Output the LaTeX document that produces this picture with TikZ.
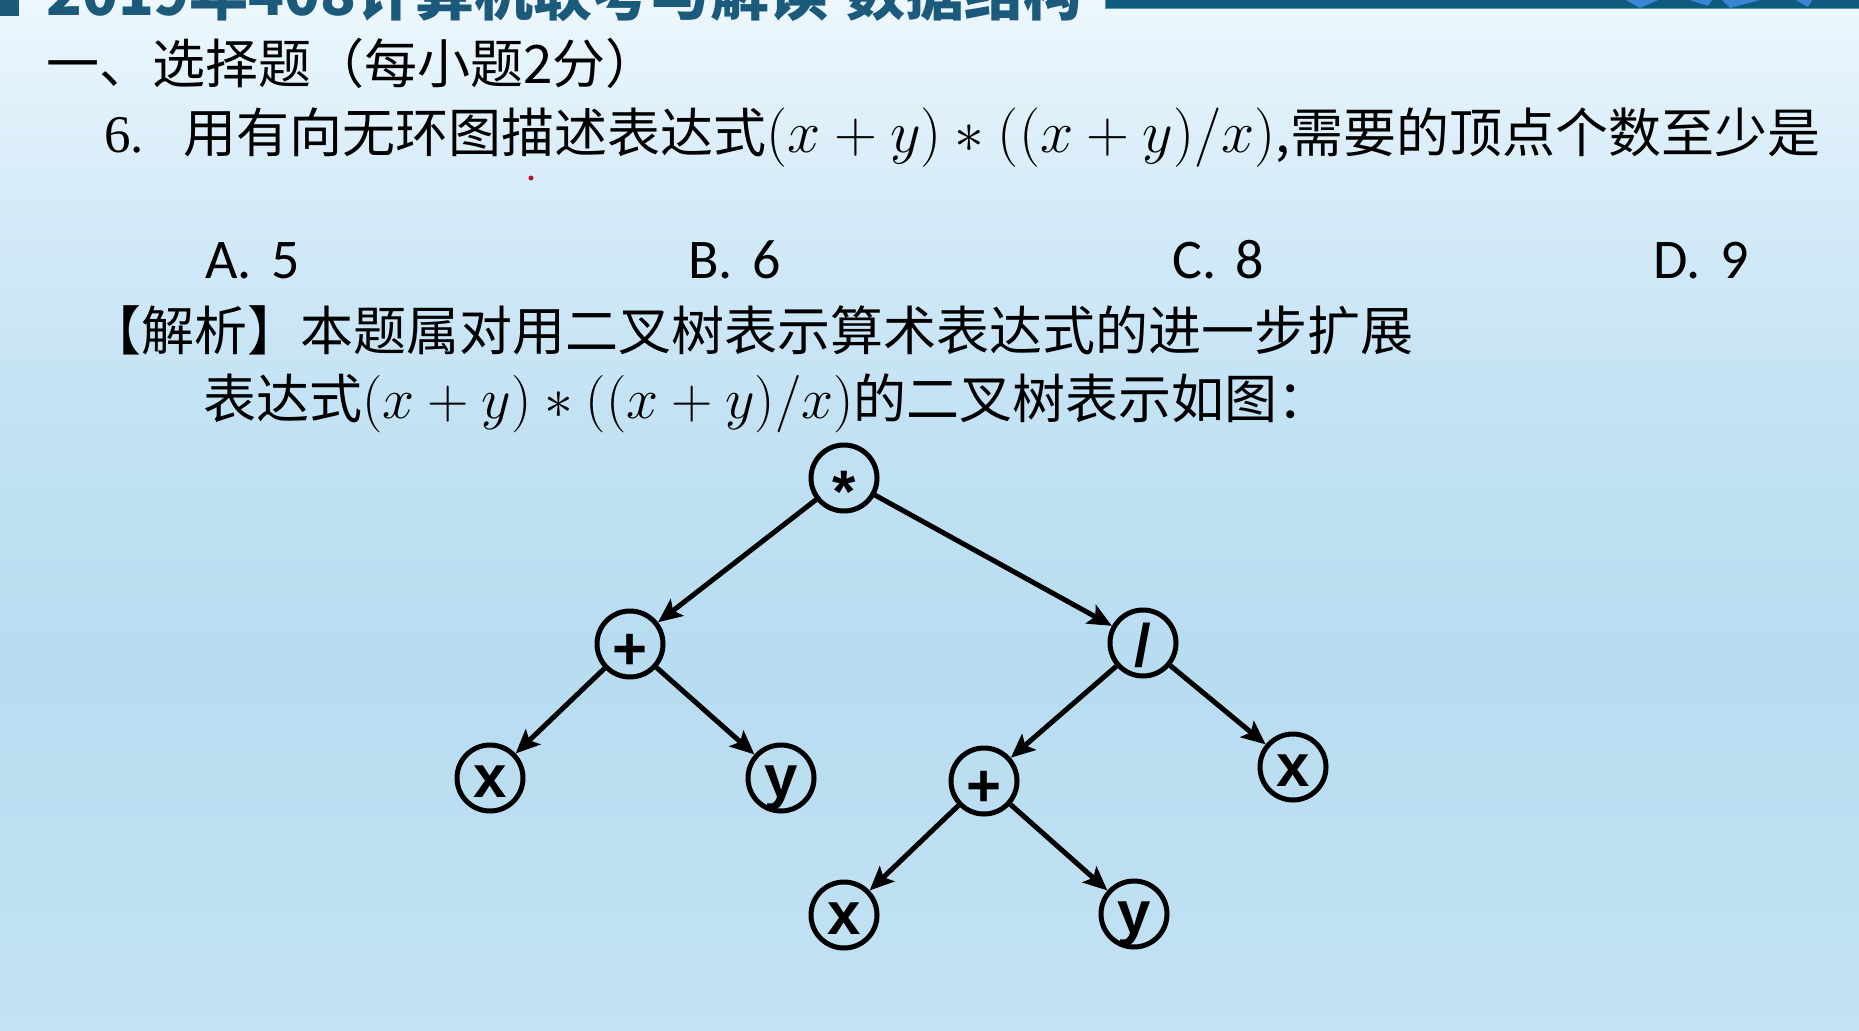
\RequirePackage{fix-cm}
\documentclass[tikz,border=0pt]{standalone}
\usepackage{fontspec}
\setmainfont{Liberation Serif}
\newfontfamily\cjk{Noto Sans CJK SC}
\newfontfamily\optfont{Carlito}
\newfontfamily\nodefont{Liberation Sans}
\usetikzlibrary{arrows.meta}
\definecolor{titlecol}{HTML}{1B5A7A}
\definecolor{barcol}{HTML}{0F5B7D}
\definecolor{barline}{HTML}{5E93AE}
\definecolor{tricol}{HTML}{3A86D6}
\definecolor{bgA}{HTML}{C3E2F4}
\definecolor{bgB}{HTML}{B8DCF0}
\definecolor{bgC}{HTML}{C3E2F4}
\definecolor{bgD}{HTML}{D5EBF8}
\definecolor{bgE}{HTML}{E5F3FB}
\definecolor{bgF}{HTML}{EDF7FD}
\definecolor{dotred}{HTML}{C8102E}
\pgfdeclareverticalshading{bgshade}{100bp}{color(0bp)=(bgA); color(25bp)=(bgA); color(43bp)=(bgB); color(55bp)=(bgC); color(65bp)=(bgD); color(72bp)=(bgE); color(75bp)=(bgF); color(100bp)=(bgF)}
\newcommand{\exprA}[1]{{\rmfamily\fontsize{#1}{60}\selectfont$(x+y)*((x+y)/x)$}}
\begin{document}
\begin{tikzpicture}[x=1pt,y=-1pt,
  tn/.style={circle,draw,line width=5pt,minimum size=66pt,inner sep=0pt,
    font=\nodefont\bfseries\fontsize{60}{60}\selectfont,text height=45pt,text depth=6pt},
  ed/.style={line width=5pt,-{Stealth[length=24pt,width=21pt,inset=5pt]}},
  cn/.style={anchor=base west,inner sep=0pt,font=\cjk\fontsize{53}{60}\selectfont},
  opt/.style={anchor=base west,inner sep=0pt,font=\optfont\fontsize{56}{60}\selectfont}]
\clip (0,0) rectangle (1859,1030);
\shade[shading=bgshade] (0,0) rectangle (1859,1030);
% header
\fill[titlecol] (0,0) rectangle (19,16);
\node[anchor=base west,inner sep=0pt,text=titlecol,font=\cjk\bfseries\fontsize{59}{59}\selectfont] (title) at (46,16) {2019年408计算机联考与解读\hspace{0.3em}数据结构};
\fill[barcol] (1105,0) rectangle (1859,8);
\draw[barline,line width=1pt] (1105,0) -- (1105,8.5) -- (1859,8.5);
\fill[tricol] (1626,0) -- (1658,0) -- (1640,8) -- cycle;
\fill[tricol] (1690,0) -- (1712,0) -- (1708,6) -- cycle;
\fill[tricol] (1722,0) -- (1760,0) -- (1730,8) -- cycle;
\fill[tricol] (1796,0) -- (1812,0) -- (1808,7) -- cycle;
% texts
\node[cn] (l1) at (46,84) {一、选择题（每小题2分）};
\node[cn] (q6) at (104,152) {\rmfamily 6.\hspace{0.75em}\cjk 用有向无环图描述表达式\exprA{59.5},\cjk 需要的顶点个数至少是};
\fill[dotred] (531,178) circle (2.5);
\node[opt] (oa) at (205,278) {A.\hspace{0.35em}5};
\node[opt] (ob) at (688,278) {B.\hspace{0.35em}6};
\node[opt] (oc) at (1172,278) {C.\hspace{0.35em}8};
\node[opt] (od) at (1653,278) {D.\hspace{0.35em}9};
\node[cn] (jx) at (88,350) {【解析】本题属对用二叉树表示算术表达式的进一步扩展};
\node[cn] (bd) at (203,418) {表达式\exprA{57.5}\cjk 的二叉树表示如图：};
% tree
\node[tn] (mul) at (844,478) {\raisebox{-15pt}{*}};
\node[tn] (div) at (1143,643) {\raisebox{-4pt}{/}};
\node[tn] (p1) at (630,644) {\raisebox{-6pt}{+}};
\node[tn] (x1) at (490,778) {x};
\node[tn] (y1) at (781,778) {y};
\node[tn] (p2) at (984,781) {\raisebox{-6pt}{+}};
\node[tn] (x2) at (1293,767) {x};
\node[tn] (x3) at (844,915) {x};
\node[tn] (y3) at (1134,914) {y};
\draw[ed] (mul) -- (p1);
\draw[ed] (mul) -- (div);
\draw[ed] (p1) -- (x1);
\draw[ed] (p1) -- (y1);
\draw[ed] (div) -- (p2);
\draw[ed] (div) -- (x2);
\draw[ed] (p2) -- (x3);
\draw[ed] (p2) -- (y3);
\end{tikzpicture}
\end{document}
